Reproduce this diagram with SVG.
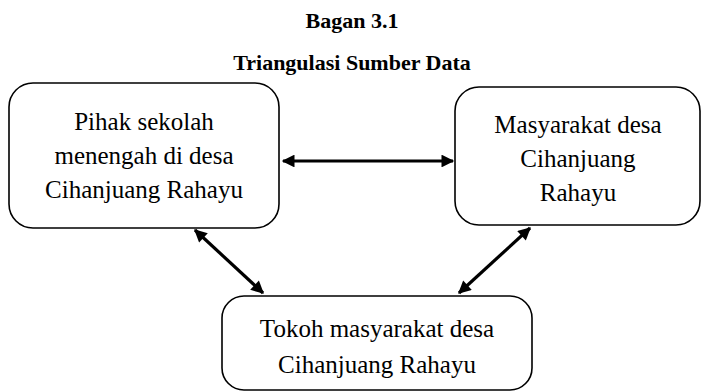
<svg xmlns="http://www.w3.org/2000/svg" width="701" height="392" viewBox="0 0 701 392">
  <style>
    .title { font-family: "Liberation Serif", "Times New Roman", serif; font-weight: bold; font-size: 22px; fill: #000; text-anchor: middle; }
    .box { fill: #fff; stroke: #000; stroke-width: 1.6; }
    .label { font-family: "Liberation Serif", "Times New Roman", serif; font-size: 25px; fill: #000; text-anchor: middle; }
    .link { stroke: #000; stroke-width: 3.2; fill: none; marker-start: url(#head); marker-end: url(#head); }
  </style>
  <defs>
    <marker id="head" viewBox="0 0 10 10" refX="9" refY="5" markerWidth="4.6" markerHeight="4" orient="auto-start-reverse" markerUnits="strokeWidth">
      <path d="M0,0 L10,5 L0,10 z" fill="#000"/>
    </marker>
  </defs>
  <rect width="701" height="392" fill="#fff"/>

  <g id="title">
    <text class="title" x="352" y="28">Bagan 3.1</text>
    <text class="title" x="352" y="70">Triangulasi Sumber Data</text>
  </g>

  <g id="connectors">
    <line class="link" x1="283" y1="161" x2="453" y2="161"/>
    <line class="link" x1="195" y1="230" x2="263" y2="293"/>
    <line class="link" x1="530" y1="228" x2="459" y2="293"/>
  </g>

  <g id="node-sekolah">
    <rect class="box" x="9" y="83" width="270" height="145" rx="24" ry="24"/>
    <text class="label" x="144" y="130">Pihak sekolah</text>
    <text class="label" x="144" y="164">menengah di desa</text>
    <text class="label" x="144" y="198">Cihanjuang Rahayu</text>
  </g>

  <g id="node-masyarakat">
    <rect class="box" x="455" y="87" width="245" height="138" rx="24" ry="24"/>
    <text class="label" x="578" y="133">Masyarakat desa</text>
    <text class="label" x="578" y="167">Cihanjuang</text>
    <text class="label" x="578" y="201">Rahayu</text>
  </g>

  <g id="node-tokoh">
    <rect class="box" x="222" y="296" width="310" height="94" rx="22" ry="22"/>
    <text class="label" x="377" y="337">Tokoh masyarakat desa</text>
    <text class="label" x="377" y="373">Cihanjuang Rahayu</text>
  </g>
</svg>
